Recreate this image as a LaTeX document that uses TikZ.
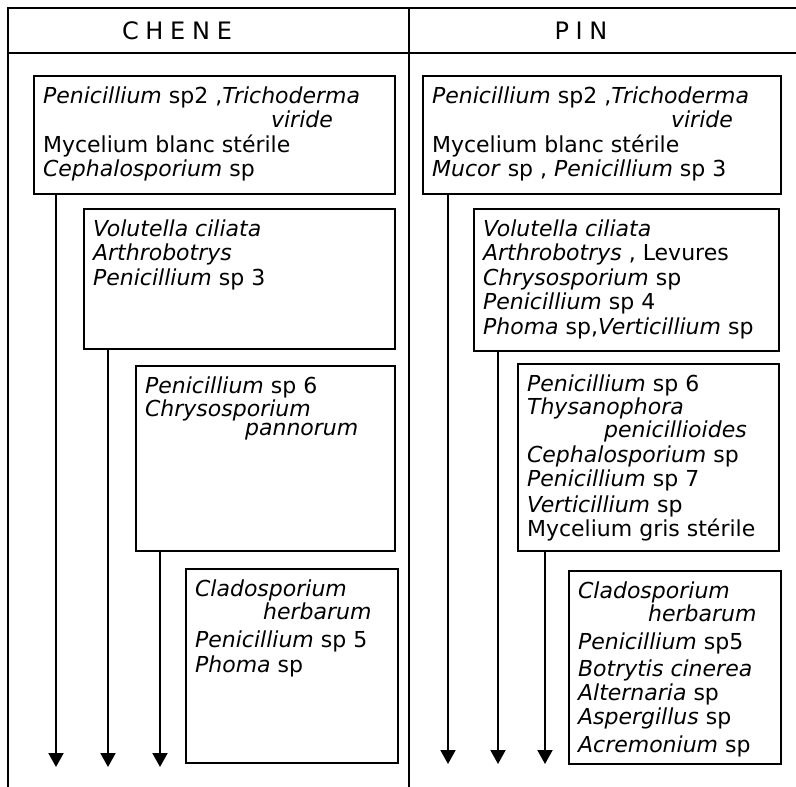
\documentclass[tikz,border=0pt]{standalone}
\usepackage{fontspec}
\setmainfont{DejaVu Sans}
\usetikzlibrary{arrows.meta}
% box text: width, height, lines
\newcommand{\fungi}[3]{\parbox[c][#2pt][t]{#1pt}{\fontsize{22}{24.5}\selectfont\lineskiplimit=-100pt\raggedright\leftskip=9pt\rule{0pt}{27pt}#3}}
\newcommand{\gen}[1]{\textit{#1}}
\begin{document}
\begin{tikzpicture}[x=1pt,y=-1pt,
	fbox/.style={draw,line width=2.2pt,inner sep=0pt,anchor=north west},
	flow/.style={line width=2pt,-{Triangle[width=15pt,length=14pt]}},
	frame/.style={line width=2pt},
	head/.style={font=\fontsize{24}{28}\selectfont\addfontfeatures{LetterSpace=28}}]
	\useasboundingbox (0,0) rectangle (796,787);
	% frame
	\draw[frame] (8,787)--(8,8)--(796,8);
	\draw[frame] (8,53)--(796,53);
	\draw[frame] (409,8)--(409,787);
	% labels
	\node[head] (chene) at (177,31) {CHENE};
	\node[head] (pin) at (581,31) {PIN};
	% chene boxes
	\node[fbox] (a1) at (33,75) {\fungi{361}{118}{\gen{Penicillium} sp2 ,\gen{Trichoderma}\\\hspace*{228pt}\gen{viride}\\Mycelium blanc stérile\\\gen{Cephalosporium} sp}};
	\node[fbox] (a2) at (83,208) {\fungi{311}{140}{\gen{Volutella ciliata}\\\gen{Arthrobotrys}\\\gen{Penicillium} sp 3}};
	\node[fbox] (a3) at (135,365) {\fungi{259}{185}{\gen{Penicillium} sp 6\\[-1.5pt]\gen{Chrysosporium}\\[-5.5pt]\hspace*{100pt}\gen{pannorum}}};
	\node[fbox] (a4) at (185,568) {\fungi{212}{194}{\gen{Cladosporium}\\[-1.5pt]\hspace*{68pt}\gen{herbarum}\\[3.5pt]\gen{Penicillium} sp 5\\[0.5pt]\gen{Phoma} sp}};
	% pin boxes
	\node[fbox] (b1) at (422,75) {\fungi{358}{118}{\gen{Penicillium} sp2 ,\gen{Trichoderma}\\\hspace*{239pt}\gen{viride}\\Mycelium blanc stérile\\\gen{Mucor} sp , \gen{Penicillium} sp 3}};
	\node[fbox] (b2) at (473,208) {\fungi{305}{142}{\gen{Volutella ciliata}\\\gen{Arthrobotrys} , Levures\\\gen{Chrysosporium} sp\\\gen{Penicillium} sp 4\\\gen{Phoma} sp,\gen{Verticillium} sp}};
	\node[fbox] (b3) at (517,363) {\fungi{261}{187}{\gen{Penicillium} sp 6\\[-1pt]\gen{Thysanophora}\\[-1.5pt]\hspace*{77pt}\gen{penicillioides}\\\gen{Cephalosporium} sp\\\gen{Penicillium} sp 7\\[1pt]\gen{Verticillium} sp\\\mbox{Mycelium gris stérile}}};
	\node[fbox] (b4) at (568,570) {\fungi{212}{193}{\gen{Cladosporium}\\[-1.5pt]\hspace*{70pt}\gen{herbarum}\\[3.5pt]\gen{Penicillium} sp5\\[2.5pt]\gen{Botrytis cinerea}\\[-0.5pt]\gen{Alternaria} sp\\\gen{Aspergillus} sp\\[3pt]\gen{Acremonium} sp}};
	% arrows
	\coordinate (t1) at (56,767);
	\coordinate (t2) at (108,767);
	\coordinate (t3) at (160,767);
	\coordinate (u1) at (448,764);
	\coordinate (u2) at (498,764);
	\coordinate (u3) at (545,764);
	\draw[flow] (a1.south -| t1)--(t1);
	\draw[flow] (a2.south -| t2)--(t2);
	\draw[flow] (a3.south -| t3)--(t3);
	\draw[flow] (b1.south -| u1)--(u1);
	\draw[flow] (b2.south -| u2)--(u2);
	\draw[flow] (b3.south -| u3)--(u3);
\end{tikzpicture}
\end{document}
